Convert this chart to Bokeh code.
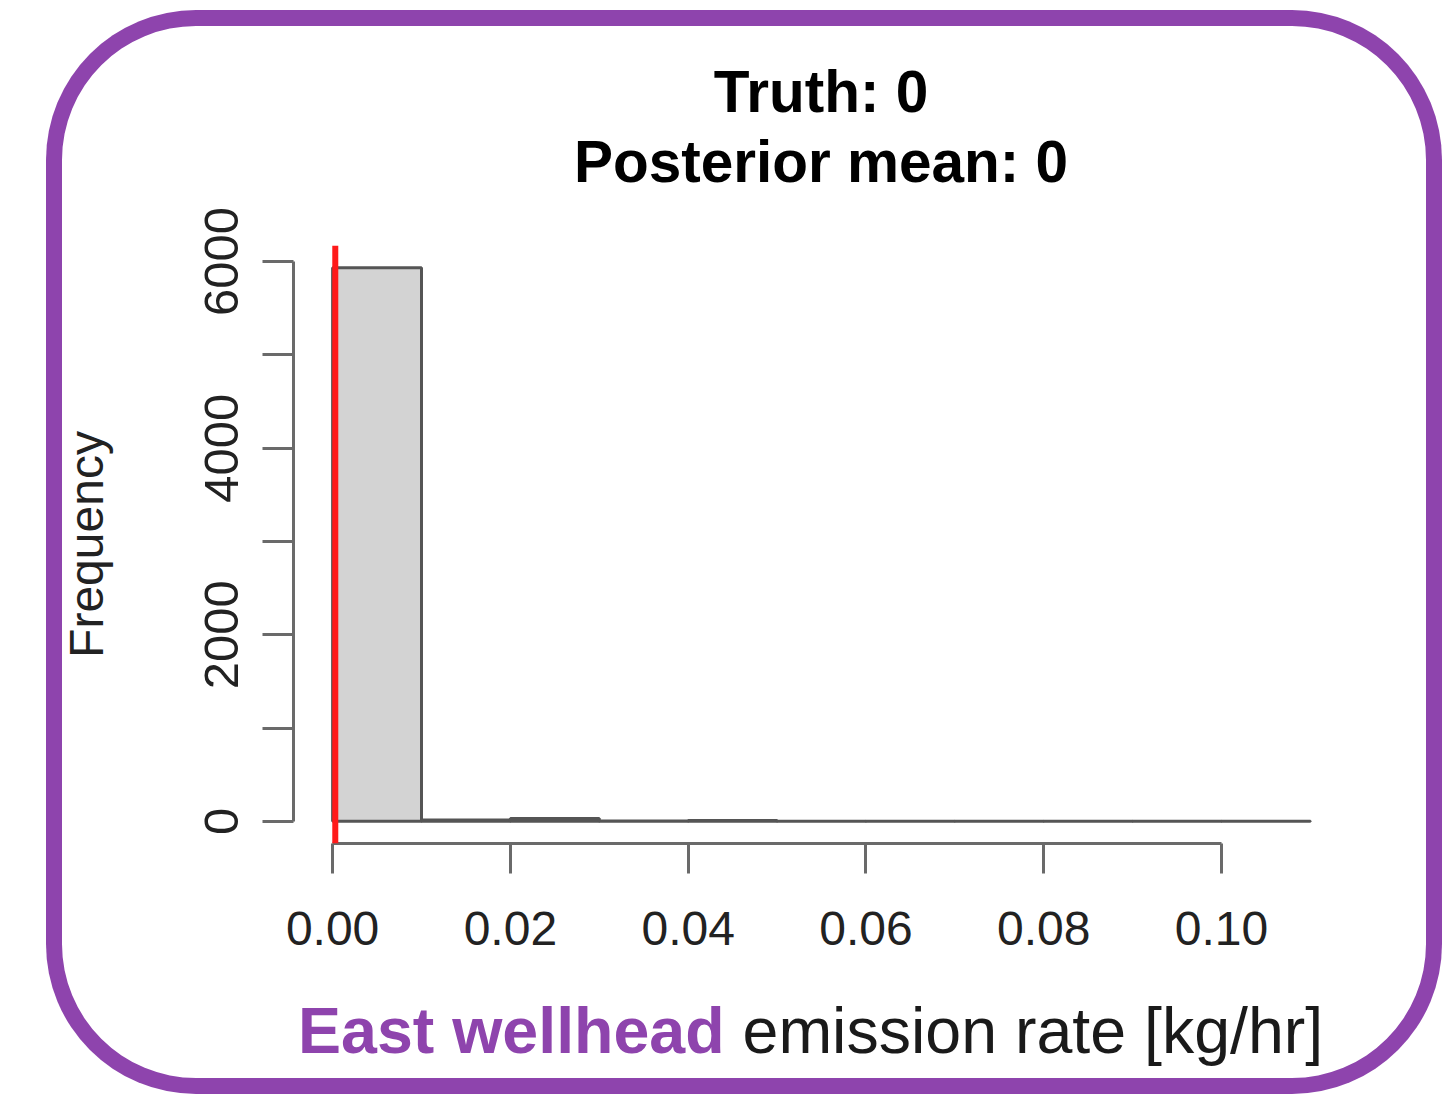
import math
from bokeh.plotting import figure
from bokeh.layouts import column
from bokeh.models import (Range1d, FixedTicker, NumeralTickFormatter, Span,
                          ColumnDataSource, Div)
from bokeh.embed import file_html
from bokeh.resources import INLINE

# ---------------- data ----------------
bin_left = [0.00, 0.01, 0.02, 0.03, 0.04, 0.05, 0.06, 0.07, 0.08, 0.09, 0.10]
bin_right = [0.01, 0.02, 0.03, 0.04, 0.05, 0.06, 0.07, 0.08, 0.09, 0.10, 0.11]
counts = [5935, 15, 30, 5, 8, 2, 1, 1, 1, 1, 1]
x_ticks = [0.00, 0.02, 0.04, 0.06, 0.08, 0.10]
y_ticks = [0, 2000, 4000, 6000]
y_minor_ticks = [1000, 3000, 5000]
red_line_x = 0.0003
title_lines = ["Truth: 0", "Posterior mean: 0"]
xlabel_site = "East wellhead"
xlabel_rest = "emission rate [kg/hr]"
ylabel = "Frequency"

PURPLE = "#8E44AD"
AXIS_GRAY = "#6a6a6a"
FONT = "Liberation Sans"
CSS_FONT = "'Liberation Sans', Arial, sans-serif"
W = 1396

# R-style 4% padding
x_lo, x_hi = min(bin_left), max(bin_right)
x_pad = 0.04 * (x_hi - x_lo)
y_hi = max(counts)
y_pad = 0.04 * y_hi

# ---------------- title (two centred lines) ----------------
title_div = Div(
    text="<br>".join(title_lines),
    width=W, height=190, margin=0,
    styles={"font-family": CSS_FONT, "font-size": "58.5px",
            "font-weight": "bold", "line-height": "70px", "color": "black",
            "text-align": "center", "padding-left": "154px",
            "padding-top": "47px", "box-sizing": "border-box",
            "white-space": "nowrap"})

# ---------------- histogram ----------------
p = figure(width=W, height=770, output_backend="svg", toolbar_location=None,
           title_location=None,
           x_range=Range1d(x_lo - x_pad, x_hi + x_pad),
           y_range=Range1d(-y_pad, y_hi + y_pad),
           min_border_left=247, min_border_right=93,
           min_border_top=45, min_border_bottom=127, margin=0)
p.outline_line_color = None
p.grid.visible = False
p.background_fill_color = None
p.border_fill_color = None

src = ColumnDataSource(dict(left=bin_left, right=bin_right, top=counts,
                            bottom=[0] * len(counts)))
p.quad(left="left", right="right", top="top", bottom="bottom", source=src,
       fill_color="#D3D3D3", line_color="#555555", line_width=3)

p.add_layout(Span(location=red_line_x, dimension="height",
                  line_color="#FF1A1A", line_width=6))

# x axis
xa = p.xaxis[0]
xa.ticker = FixedTicker(ticks=x_ticks)
xa.formatter = NumeralTickFormatter(format="0.00")
xa.bounds = (x_ticks[0], x_ticks[-1])
xa.axis_line_color = AXIS_GRAY
xa.axis_line_width = 3
xa.major_tick_line_color = AXIS_GRAY
xa.major_tick_line_width = 3
xa.major_tick_in = 0
xa.major_tick_out = 30
xa.minor_tick_line_color = None
xa.major_label_text_font = FONT
xa.major_label_text_font_size = "48px"
xa.major_label_text_color = "#222222"
xa.major_label_standoff = 38

# y axis
ya = p.yaxis[0]
ya.ticker = FixedTicker(ticks=y_ticks, minor_ticks=y_minor_ticks)
ya.formatter = NumeralTickFormatter(format="0")
ya.bounds = (y_ticks[0], y_ticks[-1])
ya.axis_line_color = AXIS_GRAY
ya.axis_line_width = 3
ya.major_tick_line_color = AXIS_GRAY
ya.major_tick_line_width = 3
ya.major_tick_in = 0
ya.major_tick_out = 31
ya.minor_tick_line_color = AXIS_GRAY
ya.minor_tick_line_width = 3
ya.minor_tick_in = 0
ya.minor_tick_out = 31
ya.major_label_orientation = "parallel"
ya.major_label_text_font = FONT
ya.major_label_text_font_size = "49px"
ya.major_label_text_color = "#222222"
ya.major_label_standoff = 24
ya.axis_label = ylabel
ya.axis_label_text_font = FONT
ya.axis_label_text_font_size = "48px"
ya.axis_label_text_font_style = "normal"
ya.axis_label_text_color = "#222222"
ya.axis_label_standoff = 90

# ---------------- x label with two styles ----------------
xlabel_div = Div(
    text=('<span style="color:%s;font-weight:bold">%s</span> %s'
          % (PURPLE, xlabel_site, xlabel_rest)),
    width=W, height=124, margin=0,
    styles={"font-family": CSS_FONT, "font-size": "64.5px",
            "line-height": "80px", "color": "#1a1a1a",
            "padding-left": "252px", "padding-top": "21px",
            "box-sizing": "border-box", "white-space": "nowrap"})

layout = column(title_div, p, xlabel_div, width=W, height=1084, spacing=0,
                margin=(10, 2, 8, 46),
                styles={"box-shadow": "inset 0 0 0 16px " + PURPLE,
                        "border-radius": "150px"})

open("out.html", "w").write(file_html(layout, INLINE))
